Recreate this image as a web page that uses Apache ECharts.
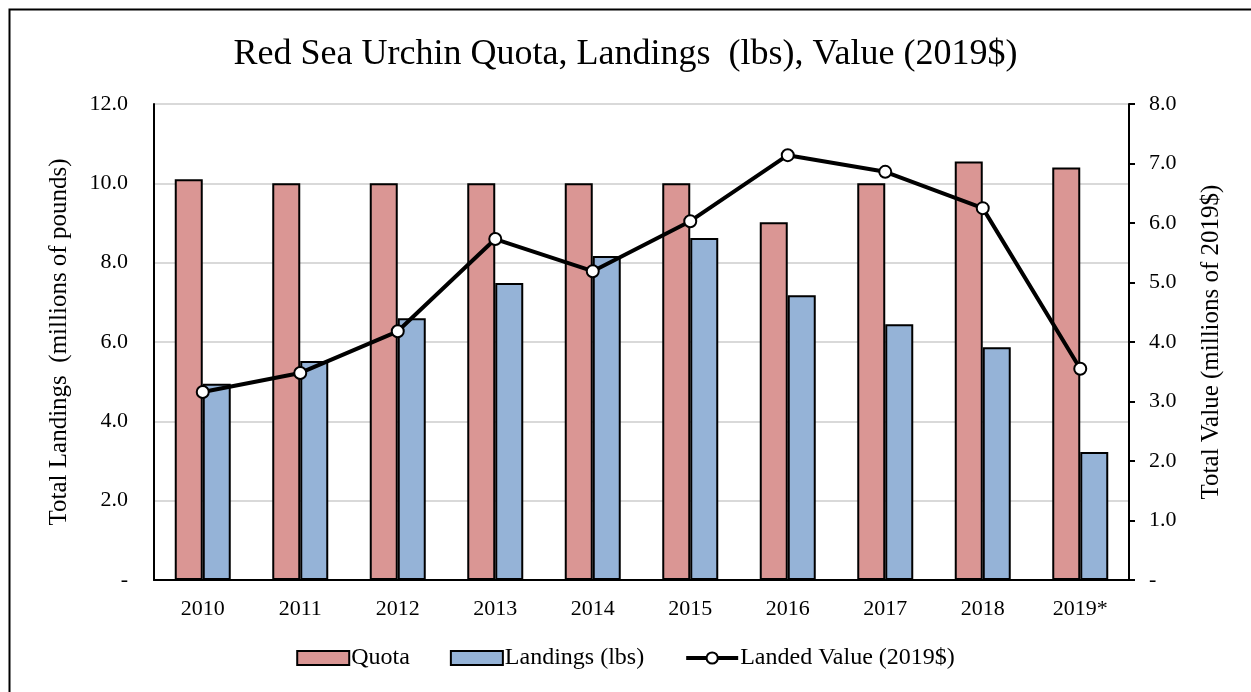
<!DOCTYPE html>
<html>
<head>
<meta charset="utf-8">
<script src="https://cdn.jsdelivr.net/npm/echarts@6/dist/echarts.min.js"></script>
<style>html,body{margin:0;padding:0;background:#fff;}#c{width:1251px;height:692px;}</style>
</head>
<body>
<div id="c"></div>
<script>
const categories = ['2010','2011','2012','2013','2014','2015','2016','2017','2018','2019*'];
const quota = [10.1, 10.0, 10.0, 10.0, 10.0, 10.0, 9.02, 10.0, 10.55, 10.4];
const landings = [4.95, 5.52, 6.6, 7.49, 8.17, 8.62, 7.18, 6.45, 5.87, 3.23];
const landedValue = [3.16, 3.48, 4.18, 5.73, 5.19, 6.03, 7.14, 6.86, 6.25, 3.55];
const leftTicks = { min: 0, max: 12, interval: 2 };
const rightTicks = { min: 0, max: 8, interval: 1 };

const font = 'Liberation Serif, Times New Roman, serif';
const chart = echarts.init(document.getElementById('c'), null, {renderer: 'canvas'});
chart.setOption({
  animation: false,
  backgroundColor: '#fff',
  textStyle: { fontFamily: font, color: '#000' },
  graphic: [{
    type: 'rect', left: 7, top: 7, silent: true,
    shape: { width: 1260, height: 700 },
    style: { fill: 'none', stroke: '#000', lineWidth: 2 }
  }],
  title: {
    text: 'Red Sea Urchin Quota, Landings  (lbs), Value (2019$)',
    left: 'center', top: 32,
    textStyle: { fontFamily: font, fontSize: 36, fontWeight: 'normal', color: '#000' }
  },
  legend: {
    bottom: 17, left: 'center', itemGap: 40, itemWidth: 52, itemHeight: 14,
    textStyle: { fontFamily: font, fontSize: 24, color: '#000', padding: [0, 0, 0, -3] },
    data: [
      { name: 'Quota', icon: 'rect' },
      { name: 'Landings (lbs)', icon: 'rect' },
      { name: 'Landed Value (2019$)', lineStyle: { width: 4, color: '#000' },
        itemStyle: { color: '#fff', borderColor: '#000', borderWidth: 2 } }
    ]
  },
  grid: { left: 154, right: 122, top: 104, bottom: 112 },
  xAxis: {
    type: 'category', data: categories,
    axisLine: { lineStyle: { color: '#000', width: 2 } },
    axisTick: { show: false },
    axisLabel: { fontFamily: font, fontSize: 22, color: '#000', margin: 18 }
  },
  yAxis: [{
    type: 'value', min: leftTicks.min, max: leftTicks.max, interval: leftTicks.interval,
    name: 'Total Landings  (millions of pounds)', nameLocation: 'middle', nameGap: 82,
    nameTextStyle: { fontFamily: font, fontSize: 25, color: '#000' },
    axisLine: { show: true, lineStyle: { color: '#000', width: 2 } },
    axisTick: { show: false },
    splitLine: { lineStyle: { color: '#d9d9d9', width: 2 } },
    axisLabel: { fontFamily: font, fontSize: 22, color: '#000', margin: 26,
      formatter: v => v === 0 ? '-' : v.toFixed(1) }
  }, {
    type: 'value', min: rightTicks.min, max: rightTicks.max, interval: rightTicks.interval,
    position: 'right',
    name: 'Total Value (millions of 2019$)', nameLocation: 'middle', nameGap: 70, nameRotate: 90,
    nameTextStyle: { fontFamily: font, fontSize: 25, color: '#000' },
    axisLine: { show: true, lineStyle: { color: '#000', width: 2 } },
    axisTick: { show: true, inside: false, length: 6, lineStyle: { color: '#000', width: 2 } },
    splitLine: { show: false },
    axisLabel: { fontFamily: font, fontSize: 22, color: '#000', margin: 20,
      formatter: v => v === 0 ? '-' : v.toFixed(1) }
  }],
  series: [{
    name: 'Quota', type: 'bar', data: quota, barWidth: 28, barGap: '0%',
    itemStyle: { color: '#da9694', borderColor: '#000', borderWidth: 2 }
  }, {
    name: 'Landings (lbs)', type: 'bar', data: landings, barWidth: 28,
    itemStyle: { color: '#95b3d7', borderColor: '#000', borderWidth: 2 }
  }, {
    name: 'Landed Value (2019$)', type: 'line', yAxisIndex: 1, data: landedValue,
    symbol: 'circle', symbolSize: 12,
    lineStyle: { color: '#000', width: 4 },
    itemStyle: { color: '#fff', borderColor: '#000', borderWidth: 2 }
  }]
});
</script>
</body>
</html>
